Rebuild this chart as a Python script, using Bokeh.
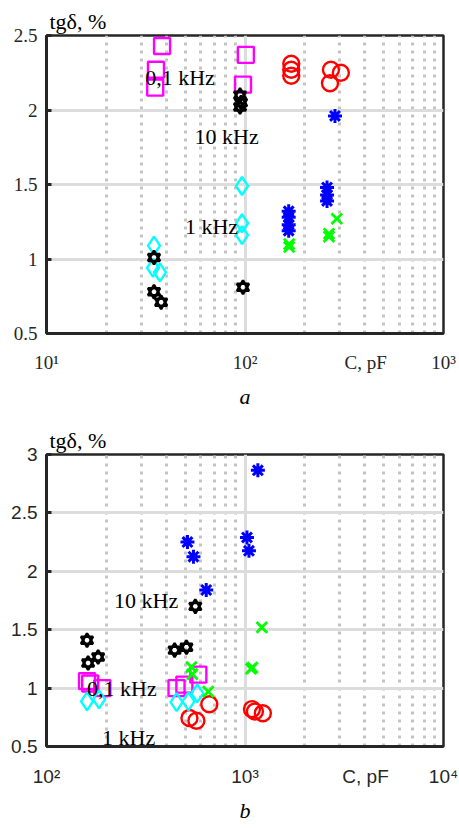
from bokeh.plotting import figure
from bokeh.layouts import column
from bokeh.models import Range1d, FixedTicker, Label, Title
from bokeh.embed import file_html
from bokeh.resources import INLINE

# ---------------- panel a data ----------------
a_sq_C = [38.2, 35.6, 35.3, 101, 97.7]            # 0.1 kHz squares
a_sq_t = [2.43, 2.27, 2.15, 2.37, 2.17]
a_ci_C = [171, 171, 171, 271, 304, 268]           # circles
a_ci_t = [2.31, 2.27, 2.23, 2.27, 2.25, 2.18]
a_st_C = [94.4, 95.5, 94.4, 34.8, 34.8, 37.8, 97.7]  # 10 kHz stars
a_st_t = [2.10, 2.05, 2.02, 1.01, 0.78, 0.71, 0.81]
a_di_C = [34.8, 34.4, 37.3, 96.6, 96.6, 96.6]     # 1 kHz diamonds
a_di_t = [1.09, 0.94, 0.91, 1.49, 1.24, 1.16]
a_as_C = [284, 166, 166, 166, 166, 259, 259, 259]  # asterisks
a_as_t = [1.96, 1.32, 1.28, 1.23, 1.19, 1.48, 1.43, 1.39]
a_x_C = [167, 167, 265, 265, 290]                 # crosses
a_x_t = [1.10, 1.08, 1.17, 1.15, 1.27]
a_xticks = [10, 100, 1000]
a_xminor = [20, 30, 40, 50, 60, 70, 80, 90, 200, 300, 400, 500, 600, 700, 800, 900]
a_xlabels = {10: "10¹", 100: "10²", 1000: "10³"}
a_xname_at = 405
a_yticks = [0.5, 1, 1.5, 2, 2.5]
a_ylabels = {0.5: "0.5", 1: "1", 1.5: "1.5", 2: "2", 2.5: "2.5"}

# ---------------- panel b data ----------------
b_as_C = [513, 550, 638, 1161, 1023, 1047]
b_as_t = [2.25, 2.125, 1.84, 2.865, 2.29, 2.175]
b_st_C = [562, 160, 162, 182, 442, 507]
b_st_t = [1.70, 1.41, 1.215, 1.266, 1.325, 1.35]
b_sq_C = [160, 166, 191, 452, 495, 582]
b_sq_t = [1.06, 1.04, 1.0, 1.0, 1.03, 1.115]
b_di_C = [160, 184, 452, 519, 575]
b_di_t = [0.887, 0.904, 0.88, 0.887, 0.955]
b_x_C = [537, 543, 653, 1216, 1072, 1090]
b_x_t = [1.18, 1.12, 0.97, 1.52, 1.165, 1.175]
b_ci_C = [525, 569, 661, 1084, 1122, 1230]
b_ci_t = [0.744, 0.72, 0.862, 0.82, 0.80, 0.785]
b_xticks = [100, 1000, 10000]
b_xminor = [200, 300, 400, 500, 600, 700, 800, 900, 2000, 3000, 4000, 5000, 6000, 7000, 8000, 9000]
b_xlabels = {100: "10²", 1000: "10³", 10000: "10⁴"}
b_xname_at = 4050
b_yticks = [0.5, 1, 1.5, 2, 2.5, 3]
b_ylabels = {0.5: "0.5", 1: "1", 1.5: "1.5", 2: "2", 2.5: "2.5", 3: "3"}

SERIF = "Liberation Serif"
SANS = "Liberation Sans"
DARK = "#262626"


def make_fig(xr, yr, xticks, xminor, xlabels, xname_at, yticks, ylabels, tick_font,
             height, bl, br, bt, bb, xstand):
    p = figure(width=459, height=height, x_axis_type="log",
               x_range=Range1d(*xr), y_range=Range1d(*yr),
               output_backend="svg", toolbar_location=None,
               min_border_left=bl, min_border_right=br,
               min_border_top=bt, min_border_bottom=bb,
               outline_line_color=DARK, outline_line_width=2.5,
               background_fill_color="white", border_fill_color="white")
    grid_xt = FixedTicker(ticks=xticks, minor_ticks=xminor)
    axis_xt = FixedTicker(ticks=xticks + [xname_at], minor_ticks=[])
    yt = FixedTicker(ticks=yticks, minor_ticks=[])
    labels = dict(xlabels)
    labels[xname_at] = "C, pF"
    for ax in p.xaxis:
        ax.ticker = axis_xt
        ax.major_label_overrides = labels
        ax.major_label_standoff = xstand
        ax.major_tick_in = 0
    for ax in p.yaxis:
        ax.ticker = yt
        ax.major_label_overrides = ylabels
        ax.major_label_standoff = 9
        ax.major_tick_in = 5
    for ax in list(p.xaxis) + list(p.yaxis):
        ax.axis_line_color = DARK
        ax.axis_line_width = 3
        ax.major_tick_out = 0
        ax.major_tick_line_width = 3
        ax.major_tick_line_color = DARK
        ax.minor_tick_line_color = None
        ax.major_label_text_font = tick_font
        ax.major_label_text_font_size = "19px"
        ax.major_label_text_color = DARK
    p.xgrid.ticker = grid_xt
    p.ygrid.ticker = yt
    p.xgrid.grid_line_color = "#dcdcdc"
    p.xgrid.grid_line_width = 3
    p.xgrid.minor_grid_line_color = "#c4c4c4"
    p.xgrid.minor_grid_line_width = 3
    p.xgrid.minor_grid_line_dash = "3 5"
    p.ygrid.grid_line_color = "#dcdcdc"
    p.ygrid.grid_line_width = 3
    return p


def draw_points(p, sq, ci, st, di, ast, xx):
    p.scatter(sq[0], sq[1], marker="square", size=16, fill_color=None,
              line_color="#ff00ff", line_width=2.4)
    p.scatter(ci[0], ci[1], marker="circle", size=16, fill_color=None,
              line_color="#ff0000", line_width=2.4)
    p.scatter(di[0], di[1], marker="diamond", size=18, fill_color=None,
              line_color="#00ffff", line_width=2.4)
    p.scatter(ast[0], ast[1], marker="asterisk", size=14, line_color="#0000ff",
              line_width=3)
    p.scatter(xx[0], xx[1], marker="x", size=15, line_color="#00ff00",
              line_width=2.8)
    p.scatter(st[0], st[1], marker="triangle", size=12, fill_color=None,
              line_color="black", line_width=2.5)
    p.scatter(st[0], st[1], marker="inverted_triangle", size=12, fill_color=None,
              line_color="black", line_width=2.5)


def lab(p, x, y, text):
    p.add_layout(Label(x=x, y=y, text=text, text_font=SERIF, text_font_size="22px",
                       text_align="left", text_baseline="middle", text_color="black"))


def titles(p, caption, top_standoff, bottom_standoff):
    p.add_layout(Title(text="tgδ, %", align="left", offset=3, text_font=SERIF,
                       text_font_size="22px", text_font_style="normal",
                       text_color="black", standoff=top_standoff), "above")
    p.add_layout(Title(text=caption, align="center", text_font=SERIF,
                       text_font_size="22px", text_font_style="italic",
                       text_color="black", standoff=bottom_standoff), "below")


# ---------------- panel a ----------------
pa = make_fig((10, 1000), (0.5, 2.5), a_xticks, a_xminor, a_xlabels, a_xname_at,
              a_yticks, a_ylabels, SERIF, 414, 44, 13, 35, 79, 18)
draw_points(pa, (a_sq_C, a_sq_t), (a_ci_C, a_ci_t), (a_st_C, a_st_t),
            (a_di_C, a_di_t), (a_as_C, a_as_t), (a_x_C, a_x_t))
lab(pa, 31.4, 2.22, "0,1 kHz")
lab(pa, 55.7, 1.82, "10 kHz")
lab(pa, 49.8, 1.22, "1 kHz")
titles(pa, "a", 4, 12)

# ---------------- panel b ----------------
pb = make_fig((100, 10000), (0.5, 3.0), b_xticks, b_xminor, b_xlabels, b_xname_at,
              b_yticks, b_ylabels, SANS, 414, 46, 16, 40, 77, 19)
draw_points(pb, (b_sq_C, b_sq_t), (b_ci_C, b_ci_t), (b_st_C, b_st_t),
            (b_di_C, b_di_t), (b_as_C, b_as_t), (b_x_C, b_x_t))
lab(pb, 219, 1.746, "10 kHz")
lab(pb, 160, 0.997, "0,1 kHz")
lab(pb, 190.5, 0.576, "1 kHz")
titles(pb, "b", 4, 12)

layout = column(pa, pb)
open("out.html", "w").write(file_html(layout, INLINE))
